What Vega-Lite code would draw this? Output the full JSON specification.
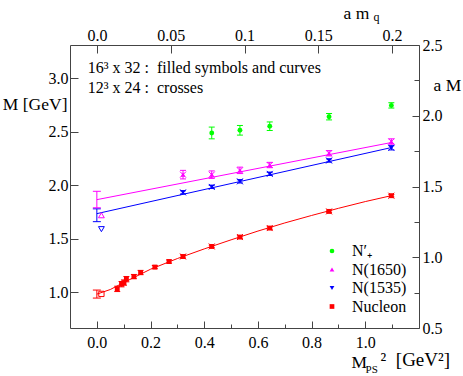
{
  "$schema": "https://vega.github.io/schema/vega-lite/v6.json",
  "width": 349,
  "height": 283,
  "autosize": {"type": "none"},
  "padding": {"left": 70, "top": 45, "right": 44, "bottom": 48},
  "background": "white",
  "config": {
    "view": {"stroke": null},
    "font": "Liberation Serif",
    "axis": {
      "grid": false, "domainColor": "#444", "tickColor": "#444", "labelColor": "#000", "titleColor": "#000",
      "labelFont": "Liberation Serif", "titleFont": "Liberation Serif", "labelFontSize": 16, "titleFontSize": 17.5,
      "titleFontWeight": "normal", "titleAngle": 0, "domainWidth": 1, "tickWidth": 1, "labelOverlap": false, "labelFlush": false
    },
    "legend": {"labelFont": "Liberation Serif"}
  },
  "datasets": {
    "fit": [
      {"x": 0.0, "y": 0.982, "s": "Nucleon"}, {"x": 0.05, "y": 1.025, "s": "Nucleon"}, {"x": 0.1, "y": 1.09, "s": "Nucleon"},
      {"x": 0.2, "y": 1.215, "s": "Nucleon"}, {"x": 0.3, "y": 1.315, "s": "Nucleon"}, {"x": 0.4, "y": 1.405, "s": "Nucleon"},
      {"x": 0.5, "y": 1.49, "s": "Nucleon"}, {"x": 0.6, "y": 1.572, "s": "Nucleon"}, {"x": 0.7, "y": 1.648, "s": "Nucleon"},
      {"x": 0.8, "y": 1.718, "s": "Nucleon"}, {"x": 0.9, "y": 1.785, "s": "Nucleon"}, {"x": 1.0, "y": 1.848, "s": "Nucleon"},
      {"x": 1.1, "y": 1.905, "s": "Nucleon"},
      {"x": 0.0, "y": 1.866, "s": "N(1650)"}, {"x": 1.1, "y": 2.402, "s": "N(1650)"},
      {"x": 0.0, "y": 1.735, "s": "N(1535)"}, {"x": 1.1, "y": 2.355, "s": "N(1535)"}
    ],
    "pts": [
      {"x": 0.428, "y": 2.49, "lo": 2.435, "hi": 2.545, "s": "N′₊"},
      {"x": 0.533, "y": 2.515, "lo": 2.47, "hi": 2.56, "s": "N′₊"},
      {"x": 0.644, "y": 2.553, "lo": 2.513, "hi": 2.593, "s": "N′₊"},
      {"x": 0.865, "y": 2.642, "lo": 2.612, "hi": 2.672, "s": "N′₊"},
      {"x": 1.097, "y": 2.748, "lo": 2.723, "hi": 2.773, "s": "N′₊"},
      {"x": 0.321, "y": 2.1, "lo": 2.06, "hi": 2.14, "s": "N(1650)"},
      {"x": 0.428, "y": 2.1, "lo": 2.065, "hi": 2.135, "s": "N(1650)"},
      {"x": 0.533, "y": 2.14, "lo": 2.11, "hi": 2.17, "s": "N(1650)"},
      {"x": 0.644, "y": 2.19, "lo": 2.165, "hi": 2.215, "s": "N(1650)"},
      {"x": 0.865, "y": 2.3, "lo": 2.275, "hi": 2.325, "s": "N(1650)"},
      {"x": 1.097, "y": 2.41, "lo": 2.385, "hi": 2.435, "s": "N(1650)"},
      {"x": 0.321, "y": 1.934, "lo": 1.919, "hi": 1.949, "s": "N(1535)"},
      {"x": 0.428, "y": 1.985, "lo": 1.97, "hi": 2.0, "s": "N(1535)"},
      {"x": 0.533, "y": 2.037, "lo": 2.022, "hi": 2.052, "s": "N(1535)"},
      {"x": 0.644, "y": 2.107, "lo": 2.092, "hi": 2.122, "s": "N(1535)"},
      {"x": 0.865, "y": 2.232, "lo": 2.217, "hi": 2.247, "s": "N(1535)"},
      {"x": 1.097, "y": 2.351, "lo": 2.331, "hi": 2.371, "s": "N(1535)"},
      {"x": 0.076, "y": 1.031, "lo": 1.006, "hi": 1.056, "s": "Nucleon"},
      {"x": 0.092, "y": 1.075, "lo": 1.05, "hi": 1.1, "s": "Nucleon"},
      {"x": 0.101, "y": 1.09, "lo": 1.065, "hi": 1.115, "s": "Nucleon"},
      {"x": 0.11, "y": 1.122, "lo": 1.097, "hi": 1.147, "s": "Nucleon"},
      {"x": 0.138, "y": 1.146, "lo": 1.126, "hi": 1.166, "s": "Nucleon"},
      {"x": 0.163, "y": 1.184, "lo": 1.164, "hi": 1.204, "s": "Nucleon"},
      {"x": 0.216, "y": 1.235, "lo": 1.22, "hi": 1.25, "s": "Nucleon"},
      {"x": 0.269, "y": 1.287, "lo": 1.272, "hi": 1.302, "s": "Nucleon"},
      {"x": 0.321, "y": 1.334, "lo": 1.319, "hi": 1.349, "s": "Nucleon"},
      {"x": 0.428, "y": 1.428, "lo": 1.416, "hi": 1.44, "s": "Nucleon"},
      {"x": 0.533, "y": 1.516, "lo": 1.504, "hi": 1.528, "s": "Nucleon"},
      {"x": 0.644, "y": 1.6, "lo": 1.588, "hi": 1.612, "s": "Nucleon"},
      {"x": 0.865, "y": 1.756, "lo": 1.744, "hi": 1.768, "s": "Nucleon"},
      {"x": 1.097, "y": 1.903, "lo": 1.891, "hi": 1.915, "s": "Nucleon"}
    ],
    "chi": [
      {"x": 0.0, "lo": 0.945, "hi": 1.02, "s": "Nucleon"},
      {"x": 0.0, "lo": 1.66, "hi": 1.78, "s": "N(1535)"},
      {"x": 0.0, "lo": 1.79, "hi": 1.944, "s": "N(1650)"}
    ],
    "exp": [
      {"x": 0.017, "y": 0.984, "s": "Nucleon"},
      {"x": 0.017, "y": 1.72, "s": "N(1650)"},
      {"x": 0.017, "y": 1.59, "s": "N(1535)"}
    ],
    "dummy": [
      {"a": 0.0, "b": 1.0}
    ]
  },
  "layer": [
    {
      "layer": [
        {
          "data": {"name": "fit"},
          "mark": {"type": "line", "strokeWidth": 1},
          "encoding": {
            "x": {
              "field": "x", "type": "quantitative",
              "scale": {"domain": [-0.1, 1.2], "nice": false, "zero": false},
              "axis": {
                "orient": "bottom",
                "values": [0, 0.2, 0.4, 0.6, 0.8, 1.0],
                "format": ".1f",
                "ticks": false, "tickSize": 0,
                "labelPadding": 6,
                "title": "M",
                "titleX": 281, "titleY": 39, "titleAlign": "left", "titleBaseline": "alphabetic"
              }
            },
            "y": {
              "field": "y", "type": "quantitative",
              "scale": {"domain": [0.665, 3.313], "nice": false, "zero": false},
              "axis": {
                "orient": "left",
                "values": [1.0, 1.5, 2.0, 2.5, 3.0],
                "format": ".1f",
                "ticks": false, "tickSize": 0,
                "labelPadding": 2,
                "title": "M [GeV]",
                "titleX": -3, "titleY": 59, "titleAlign": "right", "titleBaseline": "middle"
              }
            },
            "stroke": {
              "field": "s", "type": "nominal",
              "scale": {"domain": ["Nucleon", "N(1535)", "N(1650)", "N′₊"], "range": ["#ff0000", "#0000ff", "#ff00ff", "#00ff00"]},
              "legend": null
            },
            "detail": {"field": "s"}
          }
        },
        {
          "data": {"name": "chi"},
          "mark": {"type": "rule", "strokeWidth": 1},
          "encoding": {
            "x": {"field": "x", "type": "quantitative"},
            "y": {"field": "lo", "type": "quantitative"},
            "y2": {"field": "hi"},
            "stroke": {"field": "s", "type": "nominal", "legend": null}
          }
        },
        {
          "data": {"name": "chi"},
          "transform": [{"fold": ["lo", "hi"], "as": ["k", "v"]}],
          "mark": {"type": "rule", "strokeWidth": 1, "xOffset": -4, "x2Offset": 4},
          "encoding": {
            "x": {"field": "x", "type": "quantitative"},
            "x2": {"field": "x"},
            "y": {"field": "v", "type": "quantitative"},
            "stroke": {"field": "s", "type": "nominal", "legend": null}
          }
        },
        {
          "data": {"name": "pts"},
          "mark": {"type": "rule", "strokeWidth": 1},
          "encoding": {
            "x": {"field": "x", "type": "quantitative"},
            "y": {"field": "lo", "type": "quantitative"},
            "y2": {"field": "hi"},
            "stroke": {"field": "s", "type": "nominal", "legend": null}
          }
        },
        {
          "data": {"name": "pts"},
          "transform": [{"fold": ["lo", "hi"], "as": ["k", "v"]}],
          "mark": {"type": "rule", "strokeWidth": 1, "xOffset": -3, "x2Offset": 3},
          "encoding": {
            "x": {"field": "x", "type": "quantitative"},
            "x2": {"field": "x"},
            "y": {"field": "v", "type": "quantitative"},
            "stroke": {"field": "s", "type": "nominal", "legend": null}
          }
        },
        {
          "data": {"name": "pts"},
          "transform": [{"filter": "datum.x > 0.3 && datum.s != 'N′₊'"}],
          "mark": {"type": "point", "shape": "M -1 -1 L 1 1 M -1 1 L 1 -1", "filled": false, "strokeWidth": 1, "size": 36, "opacity": 1},
          "encoding": {
            "x": {"field": "x", "type": "quantitative"},
            "y": {"field": "y", "type": "quantitative"},
            "stroke": {"field": "s", "type": "nominal", "legend": null}
          }
        },
        {
          "data": {"name": "exp"},
          "transform": [{"filter": "datum.s == 'Nucleon'"}],
          "mark": {"type": "point", "shape": "square", "filled": false, "strokeWidth": 1, "size": 28, "opacity": 1},
          "encoding": {
            "x": {"field": "x", "type": "quantitative"},
            "y": {"field": "y", "type": "quantitative"},
            "stroke": {"field": "s", "type": "nominal", "legend": null}
          }
        },
        {
          "data": {"name": "exp"},
          "transform": [{"filter": "datum.s == 'N(1650)'"}],
          "mark": {"type": "point", "shape": "triangle-up", "filled": false, "strokeWidth": 1, "size": 34, "opacity": 1},
          "encoding": {
            "x": {"field": "x", "type": "quantitative"},
            "y": {"field": "y", "type": "quantitative"},
            "stroke": {"field": "s", "type": "nominal", "legend": null}
          }
        },
        {
          "data": {"name": "exp"},
          "transform": [{"filter": "datum.s == 'N(1535)'"}],
          "mark": {"type": "point", "shape": "triangle-down", "filled": false, "strokeWidth": 1, "size": 34, "opacity": 1},
          "encoding": {
            "x": {"field": "x", "type": "quantitative"},
            "y": {"field": "y", "type": "quantitative"},
            "stroke": {"field": "s", "type": "nominal", "legend": null}
          }
        },
        {
          "data": {"name": "pts"},
          "mark": {"type": "point", "filled": true, "size": 24, "opacity": 1},
          "encoding": {
            "x": {"field": "x", "type": "quantitative"},
            "y": {"field": "y", "type": "quantitative"},
            "color": {
              "field": "s", "type": "nominal",
              "scale": {"domain": ["N′₊", "N(1650)", "N(1535)", "Nucleon"], "range": ["#00ff00", "#ff00ff", "#0000ff", "#ff0000"]},
              "legend": {
                "orient": "none", "legendX": 254, "legendY": 198, "title": null, "padding": 0,
                "labelFont": "Liberation Serif", "labelFontSize": 16, "labelColor": "#000",
                "symbolSize": 22, "labelOffset": 12, "rowPadding": 2.5
              }
            },
            "shape": {
              "field": "s", "type": "nominal",
              "scale": {"domain": ["N′₊", "N(1650)", "N(1535)", "Nucleon"], "range": ["circle", "triangle-up", "triangle-down", "square"]},
              "legend": {
                "orient": "none", "legendX": 254, "legendY": 198, "title": null, "padding": 0,
                "labelFont": "Liberation Serif", "labelFontSize": 16, "labelColor": "#000",
                "symbolSize": 22, "labelOffset": 12, "rowPadding": 2.5
              }
            }
          }
        },
        {
          "data": {"name": "dummy"},
          "mark": {"type": "text", "align": "left", "baseline": "middle", "font": "Liberation Serif", "fontSize": 16, "color": "#000"},
          "encoding": {
            "x": {"datum": -0.034, "type": "quantitative"},
            "y": {"datum": 3.095, "type": "quantitative"},
            "text": {"value": "16³ x 32 :\u00a0 filled symbols and curves"}
          }
        },
        {
          "data": {"name": "dummy"},
          "mark": {"type": "text", "align": "left", "baseline": "middle", "font": "Liberation Serif", "fontSize": 16, "color": "#000"},
          "encoding": {
            "x": {"datum": -0.034, "type": "quantitative"},
            "y": {"datum": 2.908, "type": "quantitative"},
            "text": {"value": "12³ x 24 :\u00a0 crosses"}
          }
        },
        {
          "data": {"name": "dummy"},
          "mark": {"type": "text", "align": "left", "baseline": "alphabetic", "font": "Liberation Serif", "fontSize": 11, "color": "#000"},
          "encoding": {
            "x": {"datum": 1.001, "type": "quantitative"},
            "y": {"datum": 0.24, "type": "quantitative"},
            "text": {"value": "PS"}
          }
        },
        {
          "data": {"name": "dummy"},
          "mark": {"type": "text", "align": "left", "baseline": "alphabetic", "font": "Liberation Serif", "fontSize": 19, "color": "#000"},
          "encoding": {
            "x": {"datum": 1.057, "type": "quantitative"},
            "y": {"datum": 0.305, "type": "quantitative"},
            "text": {"value": "²\u00a0 [GeV²]"}
          }
        }
      ]
    },
    {
      "layer": [
        {
          "data": {"name": "dummy"},
          "mark": {"type": "point", "opacity": 0},
          "encoding": {
            "x": {
              "field": "a", "type": "quantitative",
              "scale": {"domain": [-0.0183, 0.2183], "nice": false, "zero": false},
              "axis": {
                "orient": "top",
                "values": [0, 0.05, 0.1, 0.15, 0.2],
                "labelExpr": "datum.value == 0 ? '0.0' : format(datum.value, '~g')",
                "ticks": false, "tickSize": 0,
                "labelPadding": 2,
                "title": "a m",
                "titleX": 273, "titleY": -27, "titleAlign": "left", "titleBaseline": "alphabetic"
              }
            },
            "y": {
              "field": "b", "type": "quantitative",
              "scale": {"domain": [0.5, 2.5], "nice": false, "zero": false},
              "axis": {
                "orient": "right",
                "values": [0.5, 1.0, 1.5, 2.0, 2.5],
                "format": ".1f",
                "ticks": false, "tickSize": 0,
                "labelPadding": 3,
                "title": "a M",
                "titleX": 14, "titleY": 40, "titleAlign": "left", "titleBaseline": "middle"
              }
            }
          }
        },
        {
          "data": {"name": "dummy"},
          "mark": {"type": "text", "align": "left", "baseline": "alphabetic", "font": "Liberation Serif", "fontSize": 12, "color": "#000"},
          "encoding": {
            "x": {"datum": 0.1875, "type": "quantitative"},
            "y": {"datum": 2.672, "type": "quantitative"},
            "text": {"value": "q"}
          }
        }
      ]
    },
    {
      "data": {"name": "dummy"},
      "mark": {"type": "point", "opacity": 0},
      "encoding": {
        "x": {
          "field": "a", "type": "quantitative",
          "scale": {"domain": [-0.1, 1.2], "nice": false, "zero": false},
          "axis": {"orient": "bottom", "values": [0, 0.2, 0.4, 0.6, 0.8, 1.0], "labels": false, "domain": false, "title": null, "tickSize": 7, "offset": -7}
        },
        "y": {
          "field": "b", "type": "quantitative",
          "scale": {"domain": [0.665, 3.313], "nice": false, "zero": false},
          "axis": {"orient": "left", "values": [1.0, 1.5, 2.0, 2.5, 3.0], "labels": false, "domain": false, "title": null, "tickSize": 8, "offset": -8}
        }
      }
    },
    {
      "data": {"name": "dummy"},
      "mark": {"type": "point", "opacity": 0},
      "encoding": {
        "x": {
          "field": "a", "type": "quantitative",
          "scale": {"domain": [-0.1, 1.2], "nice": false, "zero": false},
          "axis": {"orient": "bottom", "values": [0.1, 0.3, 0.5, 0.7, 0.9, 1.1], "labels": false, "domain": false, "title": null, "tickSize": 4, "offset": -4}
        },
        "y": {
          "field": "b", "type": "quantitative",
          "scale": {"domain": [0.5, 2.5], "nice": false, "zero": false},
          "axis": {"orient": "right", "values": [0.75, 1.25, 1.75, 2.25], "labels": false, "domain": false, "title": null, "tickSize": 5, "offset": -5}
        }
      }
    },
    {
      "data": {"name": "dummy"},
      "mark": {"type": "point", "opacity": 0},
      "encoding": {
        "x": {
          "field": "a", "type": "quantitative",
          "scale": {"domain": [-0.0183, 0.2183], "nice": false, "zero": false},
          "axis": {"orient": "top", "values": [0, 0.05, 0.1, 0.15, 0.2], "labels": false, "domain": false, "title": null, "tickSize": 8, "offset": -8}
        },
        "y": {
          "field": "b", "type": "quantitative",
          "scale": {"domain": [0.5, 2.5], "nice": false, "zero": false},
          "axis": {"orient": "right", "values": [0.5, 1.0, 1.5, 2.0, 2.5], "labels": false, "domain": false, "title": null, "tickSize": 7, "offset": -7}
        }
      }
    }
  ],
  "resolve": {
    "scale": {"x": "independent", "y": "independent"},
    "axis": {"x": "independent", "y": "independent"}
  }
}
